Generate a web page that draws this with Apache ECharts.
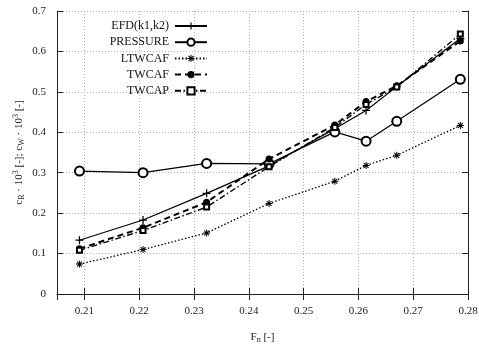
<!DOCTYPE html>
<html lang="en">
<head>
    <meta charset="UTF-8">
    <title>Resistance coefficients vs Froude number</title>
    <script src="https://cdn.jsdelivr.net/npm/echarts@6.0.0/dist/echarts.min.js"></script>
    <style>
        * { margin: 0; padding: 0; }
        body { background: #fff; }
        #chart { width: 479px; height: 345px; }
    </style>
</head>
<body>
    <div id="chart"></div>

    <script>
        // Froude numbers of the measured points
        const fnValues = [0.2091, 0.2207, 0.2323, 0.2437, 0.2557, 0.2614, 0.2670, 0.2786];

        // coefficients * 10^3
        const efd = [0.133, 0.183, 0.249, 0.317, 0.409, 0.454, 0.513, 0.632];
        const pressure = [0.304, 0.300, 0.323, 0.322, 0.401, 0.378, 0.427, 0.531];
        const ltwcaf = [0.074, 0.110, 0.151, 0.224, 0.279, 0.318, 0.343, 0.417];
        const twcaf = [0.112, 0.164, 0.227, 0.334, 0.418, 0.476, 0.515, 0.626];
        const twcap = [0.108, 0.157, 0.215, 0.315, 0.412, 0.469, 0.512, 0.643];

        const seriesNames = ['EFD(k1,k2)', 'PRESSURE', 'LTWCAF', 'TWCAF', 'TWCAP'];

        const font = 'Liberation Serif';
        const ink = '#000';

        const plusPath = 'path://M4.2,0H5.8V10H4.2Z M0,4.2H10V5.8H0Z';
        const starPath = 'path://M4.3,0H5.7V10H4.3Z M0,4.3H10V5.7H0Z M1,2L2,1L9,8L8,9Z M8,1L9,2L2,9L1,8Z';

        function pairs(values) {
            return fnValues.map((x, i) => [x, values[i]]);
        }

        const chart = echarts.init(document.getElementById('chart'), null, { renderer: 'canvas' });

        const gridLine = { show: true, lineStyle: { color: '#b0b0b0', type: [1, 2], width: 1 } };
        const frameLine = { show: true, lineStyle: { color: '#222', width: 1 } };
        const innerTick = { show: true, inside: true, length: 6, lineStyle: { color: '#222', width: 1 } };

        const option = {
            animation: false,
            textStyle: { fontFamily: font },
            grid: { left: 57, right: 11, top: 11, bottom: 51, containLabel: false, outerBoundsMode: 'none' },
            legend: {
                data: seriesNames,
                orient: 'vertical',
                align: 'right',
                right: 271,
                top: 20,
                padding: 0,
                itemWidth: 32,
                itemHeight: 9,
                itemGap: 4.2,
                textStyle: { fontFamily: font, fontSize: 12, color: '#111', padding: [0, 1, 0, 0] }
            },
            xAxis: [{
                type: 'value',
                min: 0.205,
                max: 0.28,
                splitNumber: 8,
                axisLine: frameLine,
                axisTick: innerTick,
                splitLine: gridLine,
                axisLabel: {
                    showMinLabel: false,
                    margin: 12,
                    fontFamily: font,
                    fontSize: 11,
                    color: '#222',
                    formatter: v => String(+v.toFixed(2))
                },
                name: '{b|F}{s|n}{b| [-]}',
                nameLocation: 'middle',
                nameGap: 36,
                nameTextStyle: {
                    rich: {
                        b: { fontFamily: font, fontSize: 11, color: '#222', lineHeight: 14 },
                        s: { fontFamily: font, fontSize: 8, color: '#222', verticalAlign: 'bottom', lineHeight: 14 }
                    }
                }
            }, {
                type: 'value',
                position: 'top',
                min: 0.205,
                max: 0.28,
                splitNumber: 8,
                axisLine: frameLine,
                axisTick: innerTick,
                axisLabel: { show: false },
                splitLine: { show: false }
            }],
            yAxis: [{
                type: 'value',
                min: 0,
                max: 0.7,
                interval: 0.1,
                axisLine: frameLine,
                axisTick: innerTick,
                splitLine: gridLine,
                axisLabel: {
                    margin: 11,
                    fontFamily: font,
                    fontSize: 11,
                    color: '#222',
                    formatter: v => String(+v.toFixed(1))
                },
                name: '{b|c}{s|R}{b| · 10}{p|3}{b| [-]; c}{s|W}{b| · 10}{p|3}{b| [-]}',
                nameLocation: 'middle',
                nameRotate: 90,
                nameGap: 31,
                nameMoveOverlap: false,
                nameTextStyle: {
                    rich: {
                        b: { fontFamily: font, fontSize: 11, color: '#222', lineHeight: 14 },
                        s: { fontFamily: font, fontSize: 8, color: '#222', verticalAlign: 'bottom', lineHeight: 14 },
                        p: { fontFamily: font, fontSize: 8, color: '#222', verticalAlign: 'top', lineHeight: 14 }
                    }
                }
            }, {
                type: 'value',
                position: 'right',
                min: 0,
                max: 0.7,
                interval: 0.1,
                axisLine: frameLine,
                axisTick: innerTick,
                axisLabel: { show: false },
                splitLine: { show: false }
            }],
            series: [{
                name: seriesNames[0],
                type: 'line',
                data: pairs(efd),
                symbol: plusPath,
                symbolSize: 8,
                itemStyle: { color: ink },
                lineStyle: { color: ink, width: 1.2, type: 'solid' }
            }, {
                name: seriesNames[1],
                type: 'line',
                data: pairs(pressure),
                symbol: 'emptyCircle',
                symbolSize: 9,
                itemStyle: { color: ink, borderWidth: 1.3 },
                lineStyle: { color: ink, width: 1.2, type: 'solid' }
            }, {
                name: seriesNames[2],
                type: 'line',
                data: pairs(ltwcaf),
                symbol: starPath,
                symbolSize: 7,
                itemStyle: { color: ink },
                lineStyle: { color: ink, width: 1.3, type: [1.5, 2] }
            }, {
                name: seriesNames[3],
                type: 'line',
                data: pairs(twcaf),
                symbol: 'circle',
                symbolSize: 7,
                itemStyle: { color: ink },
                lineStyle: { color: ink, width: 2, type: [6, 4] }
            }, {
                name: seriesNames[4],
                type: 'line',
                data: pairs(twcap),
                symbol: 'emptyRect',
                symbolSize: 5,
                itemStyle: { color: ink, borderWidth: 1.4 },
                lineStyle: { color: ink, width: 1.4, type: [6, 2.5, 1.5, 2.5] }
            }]
        };

        chart.setOption(option);
    </script>
</body>
</html>
